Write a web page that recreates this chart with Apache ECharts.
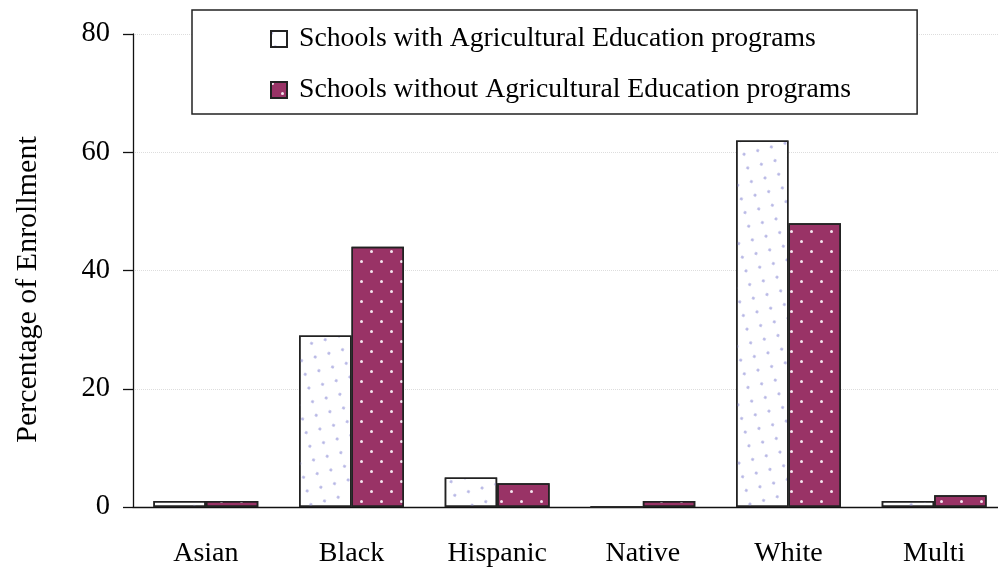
<!DOCTYPE html>
<html>
<head>
<meta charset="utf-8">
<script src="https://cdn.jsdelivr.net/npm/echarts@6/dist/echarts.min.js"></script>
<style>html,body{margin:0;padding:0;background:#fff;overflow:hidden}#c{width:1010px;height:569px}</style>
</head>
<body>
<div id="c"></div>
<script>
var categories = ['Asian', 'Black', 'Hispanic', 'Native', 'White', 'Multi'];
var withAg = [1, 29, 5, 0, 62, 1];
var withoutAg = [1, 44, 4, 1, 48, 2];
var seriesNames = ['Schools with Agricultural Education programs', 'Schools without Agricultural Education programs'];
var yTicks = [0, 20, 40, 60, 80];

var font = 'Liberation Serif';
var chart = echarts.init(document.getElementById('c'));
chart.setOption({
  backgroundColor: '#fff',
  aria: { enabled: true, decal: { show: true } },
  animation: false,
  grid: { left: 133, right: 3, top: 34, bottom: 62 },
  legend: {
    orient: 'vertical',
    left: 192, top: 10,
    padding: [15, 66, 10, 78],
    itemGap: 23,
    itemWidth: 16, itemHeight: 16,
    borderColor: '#222', borderWidth: 1.5,
    backgroundColor: '#fff',
    textStyle: { fontFamily: font, fontSize: 27.7, color: '#000', lineHeight: 28, padding: [0, 0, 0, 7] },
    data: seriesNames.map(function (n) { return { name: n, icon: 'rect' }; })
  },
  xAxis: {
    type: 'category',
    data: categories,
    axisLine: { lineStyle: { color: '#111', width: 1.3 } },
    axisTick: { length: 10, lineStyle: { color: '#111', width: 1.3 } },
    axisLabel: { fontFamily: font, fontSize: 28, color: '#000', margin: 33 }
  },
  yAxis: {
    type: 'value',
    min: yTicks[0], max: yTicks[yTicks.length - 1], interval: 20,
    name: 'Percentage of Enrollment',
    nameLocation: 'middle',
    nameGap: 90,
    nameTextStyle: { fontFamily: font, fontSize: 30, color: '#000', padding: [0, 0, 0, -38] },
    axisLine: { show: true, lineStyle: { color: '#111', width: 1.3 } },
    axisTick: { show: true, length: 10, lineStyle: { color: '#111', width: 1.3 } },
    axisLabel: { fontFamily: font, fontSize: 28.5, color: '#000', margin: 23 },
    splitLine: { lineStyle: { color: '#ddd', type: 'dotted', width: 1 } }
  },
  series: [
    {
      name: seriesNames[0], type: 'bar', data: withAg,
      barGap: '0%', barCategoryGap: '28%',
      itemStyle: {
        color: '#fff', borderColor: '#222', borderWidth: 1.5,
        decal: { symbol: 'circle', symbolSize: 1, color: '#b4b4e4',
          dashArrayX: [[0, 10, 3, 7], [3, 17]], dashArrayY: [3, 7] }
      }
    },
    {
      name: seriesNames[1], type: 'bar', data: withoutAg,
      itemStyle: {
        color: '#993366', borderColor: '#222', borderWidth: 1.5,
        decal: { symbol: 'circle', symbolSize: 1, color: '#f4e4ee',
          dashArrayX: [[0, 10, 3, 7], [3, 17]], dashArrayY: [3, 7] }
      }
    }
  ]
});
</script>
</body>
</html>
